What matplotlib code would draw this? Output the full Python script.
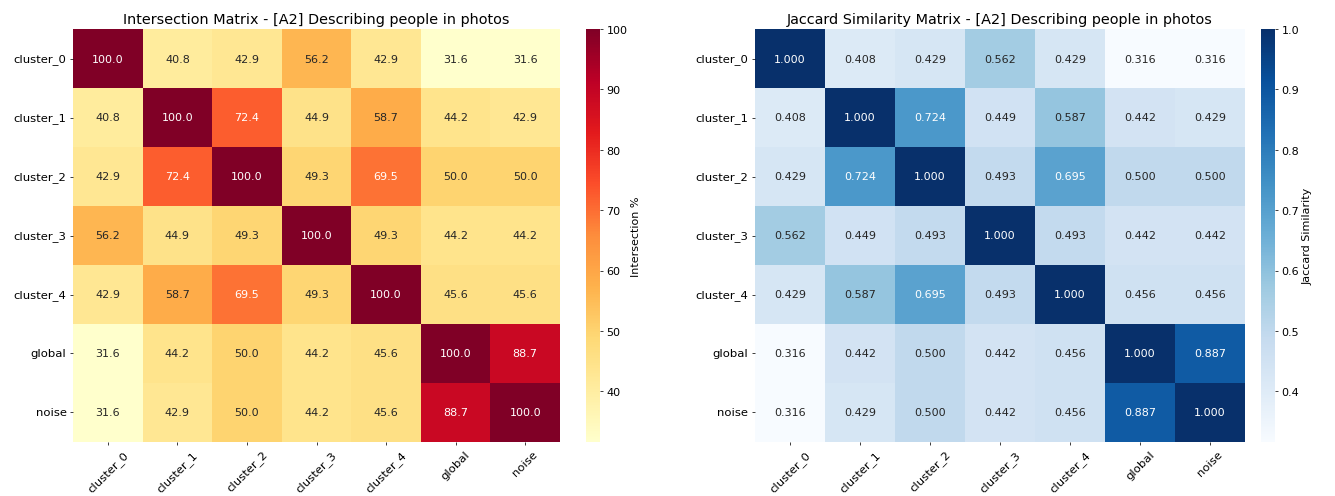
import numpy as np
import matplotlib
matplotlib.use("Agg")
import matplotlib.pyplot as plt
import seaborn as sns

labels = ["cluster_0", "cluster_1", "cluster_2", "cluster_3", "cluster_4", "global", "noise"]

# percentage of overlap between groups
intersection = np.array([
    [100.0, 40.8, 42.9, 56.2, 42.9, 31.6, 31.6],
    [40.8, 100.0, 72.4, 44.9, 58.7, 44.2, 42.9],
    [42.9, 72.4, 100.0, 49.3, 69.5, 50.0, 50.0],
    [56.2, 44.9, 49.3, 100.0, 49.3, 44.2, 44.2],
    [42.9, 58.7, 69.5, 49.3, 100.0, 45.6, 45.6],
    [31.6, 44.2, 50.0, 44.2, 45.6, 100.0, 88.7],
    [31.6, 42.9, 50.0, 44.2, 45.6, 88.7, 100.0],
])

jaccard = np.array([
    [1.000, 0.408, 0.429, 0.562, 0.429, 0.316, 0.316],
    [0.408, 1.000, 0.724, 0.449, 0.587, 0.442, 0.429],
    [0.429, 0.724, 1.000, 0.493, 0.695, 0.500, 0.500],
    [0.562, 0.449, 0.493, 1.000, 0.493, 0.442, 0.442],
    [0.429, 0.587, 0.695, 0.493, 1.000, 0.456, 0.456],
    [0.316, 0.442, 0.500, 0.442, 0.456, 1.000, 0.887],
    [0.316, 0.429, 0.500, 0.442, 0.456, 0.887, 1.000],
])

fig = plt.figure(figsize=(20, 7.445), dpi=66.75)

ax1 = fig.add_axes([0.0547, 0.1087, 0.3648, 0.8309])
cax1 = fig.add_axes([0.439, 0.1087, 0.0105, 0.8309])
ax2 = fig.add_axes([0.5655, 0.1087, 0.3671, 0.8309])
cax2 = fig.add_axes([0.9446, 0.1087, 0.0105, 0.8309])

annot_kws = {"fontsize": 12}

sns.heatmap(intersection, annot=True, fmt=".1f", cmap="YlOrRd",
            xticklabels=labels, yticklabels=labels, ax=ax1, cbar_ax=cax1,
            annot_kws=annot_kws)
ax1.set_title("Intersection Matrix - [A2] Describing people in photos", fontsize=15.5)
cax1.set_ylabel("Intersection %", fontsize=12)

sns.heatmap(jaccard, annot=True, fmt=".3f", cmap="Blues",
            xticklabels=labels, yticklabels=labels, ax=ax2, cbar_ax=cax2,
            annot_kws=annot_kws)
ax2.set_title("Jaccard Similarity Matrix - [A2] Describing people in photos", fontsize=15.5)
cax2.set_ylabel("Jaccard Similarity", fontsize=12)

for ax in (ax1, ax2):
    ax.tick_params(axis="x", rotation=45, labelsize=12.5)
    ax.tick_params(axis="y", rotation=0, labelsize=12.5)

for cax in (cax1, cax2):
    cax.tick_params(labelsize=12)

fig.savefig("out.png", dpi=66.75)
